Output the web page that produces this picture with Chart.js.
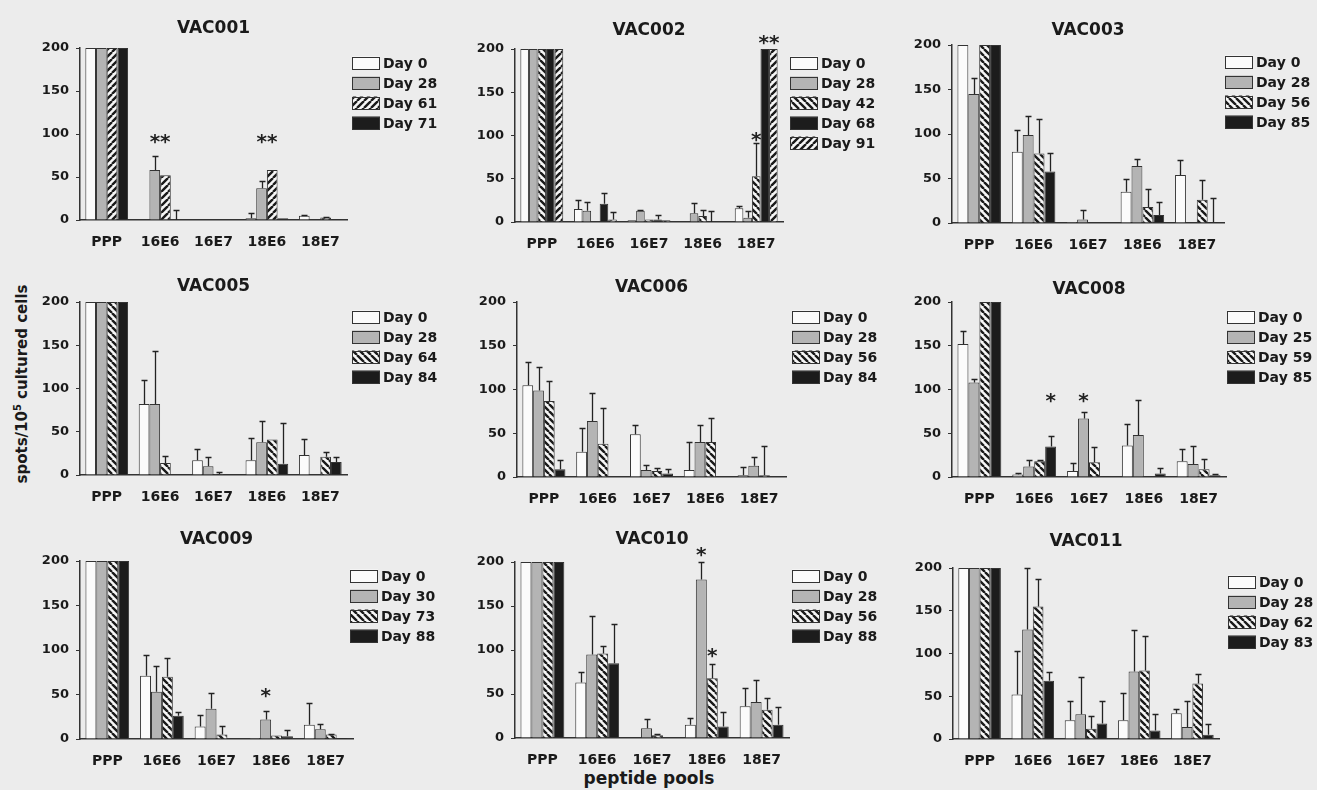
<!DOCTYPE html>
<html><head><meta charset="utf-8">
<script src="https://cdn.jsdelivr.net/npm/chart.js@4.4.1/dist/chart.umd.min.js"></script>
<style>
html,body{margin:0;padding:0;width:1317px;height:790px;overflow:hidden;background:#ececec;}
canvas{position:absolute;}
.lbl{position:absolute;font-family:'DejaVu Sans';font-weight:bold;color:#1a1a1a;white-space:nowrap;transform-origin:center center;}
#ylab{left:21px;top:384px;font-size:15px;transform:translate(-50%,-50%) rotate(-90deg);}
#ylab sup{font-size:10px;}
#xlab{left:649px;top:778px;font-size:17px;transform:translate(-50%,-50%);}
</style></head><body>
<div class="lbl" id="ylab">spots/10<sup>5</sup> cultured cells</div>
<div class="lbl" id="xlab">peptide pools</div>
<script>
// ---------- data ----------
const pools = ['PPP','16E6','16E7','18E6','18E7'];
const yTicks = [0, 50, 100, 150, 200];

const vac001Days = ['Day 0','Day 28','Day 61','Day 71'];
const vac001Values = [[200,0,0,2,5],[200,58,0,37,0],[200,52,0,58,3],[200,0,0,2,1]];
const vac001ErrTop = [[null,null,null,8,6],[null,75,null,45,null],[null,null,null,null,4],[null,12,null,null,null]];
const vac001Stars = [{pool:1,series:[1,2],y:95,text:'**'},{pool:3,series:[1,2],y:95,text:'**'}];

const vac002Days = ['Day 0','Day 28','Day 42','Day 68','Day 91'];
const vac002Values = [[200,15,2,0,16],[200,13,13,10,5],[200,0,3,7,53],[200,21,3,0,200],[200,3,2,0,200]];
const vac002ErrTop = [[null,26,null,null,19],[null,23,14,22,13],[null,null,null,14,91],[null,33,8,13,null],[null,11,null,null,null]];
const vac002Stars = [{pool:4,series:[2],y:100,text:'*'},{pool:4,series:[3,4],y:211,text:'**'}];

const vac003Days = ['Day 0','Day 28','Day 56','Day 85'];
const vac003Values = [[200,80,1,35,54],[145,99,4,64,0],[200,78,0,18,26],[200,58,0,9,1]];
const vac003ErrTop = [[null,104,null,49,71],[163,120,15,72,null],[null,117,null,38,48],[null,79,null,24,28]];
const vac003Stars = [];

const vac005Days = ['Day 0','Day 28','Day 64','Day 84'];
const vac005Values = [[200,82,17,17,23],[200,82,10,38,0],[200,14,1,41,21],[200,0,0,13,15]];
const vac005ErrTop = [[null,110,30,43,42],[null,143,21,62,null],[null,22,4,null,27],[null,null,null,60,21]];
const vac005Stars = [];

const vac006Days = ['Day 0','Day 28','Day 56','Day 84'];
const vac006Values = [[105,29,49,8,2],[99,64,8,40,13],[87,38,7,40,2],[9,0,4,0,0]];
const vac006ErrTop = [[132,56,60,40,11],[126,96,14,60,23],[110,79,10,67,35],[20,null,9,null,null]];
const vac006Stars = [];

const vac008Days = ['Day 0','Day 25','Day 59','Day 85'];
const vac008Values = [[152,3,7,36,18],[108,12,67,48,15],[200,18,17,0,9],[200,35,1,4,2]];
const vac008ErrTop = [[167,5,16,61,32],[112,19,74,88,35],[null,20,34,null,21],[null,47,null,10,4]];
const vac008Stars = [{pool:1,series:[3],y:92,text:'*'},{pool:2,series:[1],y:92,text:'*'}];

const vac009Days = ['Day 0','Day 30','Day 73','Day 88'];
const vac009Values = [[200,71,14,1,16],[200,53,34,22,11],[200,70,5,4,5],[200,26,0,3,1]];
const vac009ErrTop = [[null,94,27,null,40],[null,82,52,32,17],[null,91,15,null,6],[null,30,null,10,null]];
const vac009Stars = [{pool:3,series:[1],y:53,text:'*'}];

const vac010Days = ['Day 0','Day 28','Day 56','Day 88'];
const vac010Values = [[200,63,0,15,36],[200,95,11,180,41],[200,96,3,68,32],[200,85,0,13,15]];
const vac010ErrTop = [[null,75,null,23,57],[null,139,22,200,66],[null,105,4,84,45],[null,130,null,29,35]];
const vac010Stars = [{pool:3,series:[1],y:213,text:'*'},{pool:3,series:[2],y:98,text:'*'}];

const vac011Days = ['Day 0','Day 28','Day 62','Day 83'];
const vac011Values = [[200,52,22,22,30],[200,128,29,79,14],[200,155,12,80,65],[200,68,18,10,5]];
const vac011ErrTop = [[null,103,44,54,35],[null,200,73,127,45],[null,187,27,121,76],[null,78,45,29,17]];
const vac011Stars = [];

// ---------- styles / layout ----------
function hatch(dir){
  const s=7, c=document.createElement('canvas'); c.width=s; c.height=s;
  const g=c.getContext('2d'); g.fillStyle='#f6f6f6'; g.fillRect(0,0,s,s);
  g.strokeStyle='#1a1a1a'; g.lineWidth=2.4; g.beginPath();
  for(let k=-1;k<=1;k++){
    if(dir==='F'){ g.moveTo(k*s, s); g.lineTo(k*s+s, 0); }
    else { g.moveTo(k*s, 0); g.lineTo(k*s+s, s); }
  }
  g.stroke();
  return g.createPattern(c,'repeat');
}
const FILL = {white:'#fbfbfb', gray:'#b4b4b4', hatchF:hatch('F'), hatchB:hatch('B'), black:'#1c1c1c'};

const panels = [
  {name:'VAC001', days:vac001Days, values:vac001Values, err:vac001ErrTop, stars:vac001Stars, fills:['white','gray','hatchF','black'],
   box:{l:80,t:48,r:347,b:220,lx:352,ly:63,tg:19}},
  {name:'VAC002', days:vac002Days, values:vac002Values, err:vac002ErrTop, stars:vac002Stars, fills:['white','gray','hatchB','black','hatchF'],
   box:{l:515,t:49,r:783,b:222,lx:790,ly:63,tg:18}},
  {name:'VAC003', days:vac003Days, values:vac003Values, err:vac003ErrTop, stars:vac003Stars, fills:['white','gray','hatchB','black'],
   box:{l:952,t:45,r:1224,b:223,lx:1225,ly:62,tg:14}},
  {name:'VAC005', days:vac005Days, values:vac005Values, err:vac005ErrTop, stars:vac005Stars, fills:['white','gray','hatchB','black'],
   box:{l:80,t:302,r:347,b:475,lx:352,ly:317,tg:15}},
  {name:'VAC006', days:vac006Days, values:vac006Values, err:vac006ErrTop, stars:vac006Stars, fills:['white','gray','hatchB','black'],
   box:{l:517,t:302,r:786,b:477,lx:792,ly:317,tg:14}},
  {name:'VAC008', days:vac008Days, values:vac008Values, err:vac008ErrTop, stars:vac008Stars, fills:['white','gray','hatchB','black'],
   box:{l:952,t:302,r:1226,b:477,lx:1227,ly:317,tg:12}},
  {name:'VAC009', days:vac009Days, values:vac009Values, err:vac009ErrTop, stars:vac009Stars, fills:['white','gray','hatchB','black'],
   box:{l:80,t:561,r:353,b:739,lx:350,ly:576,tg:21}},
  {name:'VAC010', days:vac010Days, values:vac010Values, err:vac010ErrTop, stars:vac010Stars, fills:['white','gray','hatchB','black'],
   box:{l:515,t:562,r:789,b:738,lx:792,ly:576,tg:22}},
  {name:'VAC011', days:vac011Days, values:vac011Values, err:vac011ErrTop, stars:vac011Stars, fills:['white','gray','hatchB','black'],
   box:{l:953,t:568,r:1219,b:739,lx:1228,ly:582,tg:26}}
];

Chart.defaults.font.family = "'DejaVu Sans'";
Chart.defaults.font.weight = 'bold';
Chart.defaults.color = '#1a1a1a';

const errorBarPlugin = {
  id:'errorBars',
  afterDatasetsDraw(chart){
    const {ctx} = chart; const ys = chart.scales.y;
    ctx.save(); ctx.strokeStyle='#222'; ctx.lineWidth=1.3;
    chart.data.datasets.forEach((ds,i)=>{
      const meta = chart.getDatasetMeta(i);
      meta.data.forEach((bar,j)=>{
        const top = ds.errTop[j]; if(top==null) return;
        const yt = Math.round(ys.getPixelForValue(top))+0.5;
        const x = Math.round(bar.x)+0.5;
        ctx.beginPath(); ctx.moveTo(x, bar.y); ctx.lineTo(x, yt);
        ctx.moveTo(x-3, yt); ctx.lineTo(x+3, yt); ctx.stroke();
      });
    });
    ctx.restore();
  }
};
const sideLegendPlugin = {
  id:'sideLegend',
  afterDraw(chart, args, opts){
    const {ctx, chartArea} = chart;
    const x0 = chartArea.right + opts.dx, y0 = chartArea.top + opts.dy;
    ctx.save();
    ctx.font = "bold 14px 'DejaVu Sans'";
    ctx.textBaseline = 'middle';
    chart.data.datasets.forEach((ds,i)=>{
      const y = y0 + i*20;
      ctx.fillStyle = ds.backgroundColor; ctx.fillRect(x0, y-6.5, 28, 13);
      ctx.strokeStyle = '#333'; ctx.lineWidth = 1; ctx.strokeRect(x0+0.5, Math.round(y-6.5)+0.5, 27, 12);
      ctx.fillStyle = '#1a1a1a'; ctx.fillText(ds.label, x0+31, y+1);
    });
    ctx.restore();
  }
};
const starPlugin = {
  id:'stars',
  afterDraw(chart, args, opts){
    const {ctx} = chart; const ys = chart.scales.y;
    ctx.save();
    ctx.font = "bold 20px 'DejaVu Sans'";
    ctx.textAlign = 'center'; ctx.textBaseline = 'alphabetic'; ctx.fillStyle = '#222';
    (opts.list||[]).forEach(s=>{
      let x = 0;
      s.series.forEach(k=>{ x += chart.getDatasetMeta(k).data[s.pool].x; });
      x /= s.series.length;
      ctx.fillText(s.text, x, ys.getPixelForValue(s.y) + 10);
    });
    ctx.restore();
  }
};

const TOP = 45, BOTTOM = 28, YW = 52, LEGW = 96;
panels.forEach(p=>{
  const b = p.box;
  const cv = document.createElement('canvas');
  const W = YW + (b.r - b.l) + LEGW, H = TOP + (b.b - b.t) + BOTTOM;
  cv.width = W; cv.height = H;
  cv.style.left = (b.l - YW) + 'px'; cv.style.top = (b.t - TOP) + 'px';
  cv.style.width = W + 'px'; cv.style.height = H + 'px';
  document.body.appendChild(cv);
  const padBottom = b.tg - 10.2;
  const padTop = TOP - 20.4 - padBottom;
  new Chart(cv, {
    type:'bar',
    data:{
      labels: pools,
      datasets: p.days.map((d,i)=>({
        label:d, data:p.values[i], errTop:p.err[i],
        backgroundColor: FILL[p.fills[i]], borderColor:'#333', borderWidth:1
      }))
    },
    options:{
      responsive:false, maintainAspectRatio:false, animation:false, devicePixelRatio:1,
      events:[],
      categoryPercentage:0.8, barPercentage:1.0,
      layout:{padding:{left:0, top:0, right:LEGW, bottom:0}},
      scales:{
        x:{
          grid:{display:false}, border:{display:true, color:'#333', width:1.5},
          ticks:{padding:6, font:{size:14, weight:'bold'}, maxRotation:0, autoSkip:false, color:'#1a1a1a'},
          afterFit(s){ s.height = BOTTOM; }
        },
        y:{
          min:0, max:200,
          afterBuildTicks(s){ s.ticks = yTicks.map(v=>({value:v})); },
          grid:{drawOnChartArea:false, drawTicks:true, tickLength:4, color:'#333'},
          border:{display:true, color:'#333', width:1.5},
          ticks:{padding:7, font:{size:13, weight:'bold'}, color:'#1a1a1a'},
          afterFit(s){ s.width = YW; }
        }
      },
      plugins:{
        legend:{display:false}, tooltip:{enabled:false},
        title:{display:true, text:p.name, fullSize:false, color:'#1a1a1a',
          font:{size:17, weight:'bold', lineHeight:1.2}, padding:{top:padTop, bottom:padBottom}},
        sideLegend:{dx: b.lx - b.r, dy: b.ly - b.t},
        stars:{list:p.stars}
      }
    },
    plugins:[errorBarPlugin, sideLegendPlugin, starPlugin]
  });
});
</script>
</body></html>
